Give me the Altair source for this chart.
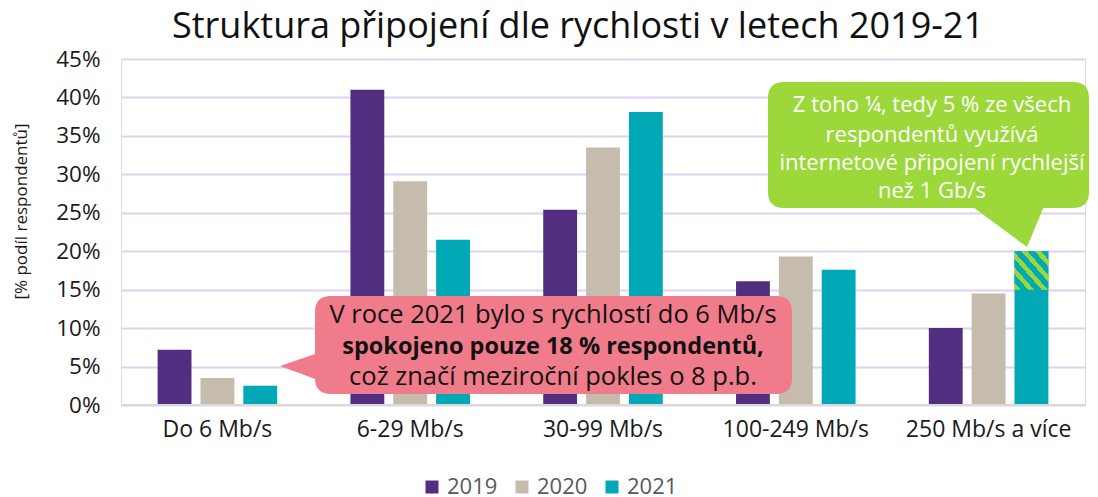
import altair as alt
import pandas as pd

FONT = "Open Sans"

categories = ["Do 6 Mb/s", "6-29 Mb/s", "30-99 Mb/s", "100-249 Mb/s", "250 Mb/s a více"]
years = ["2019", "2020", "2021"]
v2019 = [7.2, 41.0, 25.4, 16.1, 10.0]
v2020 = [3.5, 29.1, 33.5, 19.3, 14.5]
v2021 = [2.5, 21.5, 38.1, 17.6, 20.0]
gbit_share_2021 = 5.0  # part of the 2021 "250 Mb/s a více" bar faster than 1 Gb/s
y_ticks = [0, 5, 10, 15, 20, 25, 30, 35, 40, 45]
year_colors = ["#522E80", "#C6BCAE", "#00A9B5"]

title_text = "Struktura připojení dle rychlosti v letech 2019-21"
y_title = "[% podíl respondentů]"
green_lines = ["Z toho ¼, tedy 5 % ze všech", "respondentů využívá",
               "internetové připojení rychlejší", "než 1 Gb/s"]
pink_lines = ["V roce 2021 bylo s rychlostí do 6 Mb/s",
              "spokojeno pouze 18 % respondentů,",
              "což značí meziroční pokles o 8 p.b."]

rows = []
for i, c in enumerate(categories):
    for yr, vals in zip(years, [v2019, v2020, v2021]):
        rows.append({"kategorie": c, "rok": yr, "podil": vals[i]})
df = pd.DataFrame(rows)

hatch_df = pd.DataFrame({
    "kategorie": [categories[-1]],
    "rok": ["2021"],
    "y0": [v2021[-1] - gbit_share_2021],
    "y1": [v2021[-1]],
})

x_axis = alt.Axis(title=None, labelAngle=0, labelFont=FONT, labelFontSize=23,
                  labelColor="#1a1a1a", labelPadding=13, ticks=False, domain=False)
x_scale = alt.Scale(domain=categories, paddingInner=0.38, paddingOuter=0.19)
xoff_scale = alt.Scale(domain=years, paddingInner=0.21, paddingOuter=0)
y_scale = alt.Scale(domain=[0, 45], nice=False)
y_axis = alt.Axis(values=y_ticks, labelExpr="datum.value + '%'", labelOverlap=False,
                  title=y_title, titleFont=FONT, titleFontSize=17,
                  titleFontWeight="normal", titleColor="#1a1a1a",
                  titleAngle=-90, titleX=-91, titleY=152, titleAlign="center",
                  titleBaseline="bottom",
                  labelFont=FONT, labelFontSize=22.5, labelColor="#1a1a1a",
                  labelPadding=21, ticks=False, domain=False,
                  grid=True, gridColor="#DDD3EF", gridWidth=2)

bars = alt.Chart(df).mark_bar().encode(
    x=alt.X("kategorie:N", sort=categories, scale=x_scale, axis=x_axis),
    xOffset=alt.XOffset("rok:N", sort=years, scale=xoff_scale),
    y=alt.Y("podil:Q", scale=y_scale, axis=y_axis),
    color=alt.Color("rok:N", sort=years,
                    scale=alt.Scale(domain=years, range=year_colors),
                    legend=alt.Legend(orient="none", legendX=300, legendY=417,
                                      direction="horizontal", title=None,
                                      symbolType="square", symbolSize=169,
                                      symbolStrokeWidth=0,
                                      labelFont=FONT, labelFontSize=22,
                                      labelColor="#595959", labelOffset=4,
                                      columnPadding=13)),
)

stops = []
n = 5
for i in range(n):
    stops.append(alt.GradientStop(color="#9BD63A", offset=i / n))
    stops.append(alt.GradientStop(color="#9BD63A", offset=(i + 0.45) / n))
    stops.append(alt.GradientStop(color="#00A9B5", offset=(i + 0.45) / n))
    stops.append(alt.GradientStop(color="#00A9B5", offset=(i + 1) / n))
hatch = alt.Chart(hatch_df).mark_bar(
    fill=alt.Gradient(gradient="linear", stops=stops, x1=0, y1=1, x2=1, y2=0)
).encode(
    x=alt.X("kategorie:N", sort=categories, scale=x_scale, axis=x_axis),
    xOffset=alt.XOffset("rok:N", sort=years, scale=xoff_scale),
    y=alt.Y("y0:Q", scale=y_scale, axis=y_axis),
    y2="y1:Q",
)

base_rule = alt.Chart(pd.DataFrame({"v": [0]})).mark_rule(
    color="#D9D9D9", strokeWidth=2).encode(y=alt.Y("v:Q", scale=y_scale, axis=y_axis))

# callout shapes (path in pixel units relative to the plot origin; size=4 -> scale 1)
def rounded_rect(x0, y0, x1, y1, r):
    return (f"M{x0 + r},{y0} H{x1 - r} Q{x1},{y0} {x1},{y0 + r} V{y1 - r} "
            f"Q{x1},{y1} {x1 - r},{y1} H{x0 + r} Q{x0},{y1} {x0},{y1 - r} "
            f"V{y0 + r} Q{x0},{y0} {x0 + r},{y0} Z")

pink_path = rounded_rect(194, 237, 671, 335, 16) + " M159,307 L200,293 L205,324 Z"
green_path = rounded_rect(647, 23, 968, 149, 16) + " M841,140 L926,140 L906,188 Z"

anchor = pd.DataFrame({"a": [0]})
pink_shape = alt.Chart(anchor).mark_point(
    shape=pink_path, size=4, filled=True, fill="#F07B8B", opacity=1, strokeWidth=0
).encode(x=alt.value(0), y=alt.value(0))
green_shape = alt.Chart(anchor).mark_point(
    shape=green_path, size=4, filled=True, fill="#9CD83A", opacity=1, strokeWidth=0
).encode(x=alt.value(0), y=alt.value(0))

texts = []
for line, yy in zip(green_lines, [53, 83, 111, 139]):
    texts.append(alt.Chart(anchor).mark_text(
        text=line, font=FONT, fontSize=22, color="white", align="center",
        baseline="alphabetic").encode(x=alt.value(811), y=alt.value(yy)))
for line, yy, w, fs in zip(pink_lines, [264, 295, 326], ["normal", "bold", "normal"],
                           [25.5, 23.5, 25.5]):
    texts.append(alt.Chart(anchor).mark_text(
        text=line, font=FONT, fontSize=fs, fontWeight=w, color="#111111",
        align="center", baseline="alphabetic").encode(x=alt.value(432), y=alt.value(yy)))

chart = alt.layer(bars, hatch, base_rule, green_shape, pink_shape, *texts).properties(
    width=964, height=346,
    padding={"left": 113, "top": 51, "right": 5, "bottom": 110},
    autosize=alt.AutoSizeParams(type="none"),
    title=alt.TitleParams(title_text, font=FONT, fontSize=36, fontWeight="normal",
                          color="#111111", anchor="middle", dx=-25, offset=2),
).configure_view(stroke=None).configure(background="white")

chart.save("out.html", embed_options={"renderer": "svg", "actions": False})
